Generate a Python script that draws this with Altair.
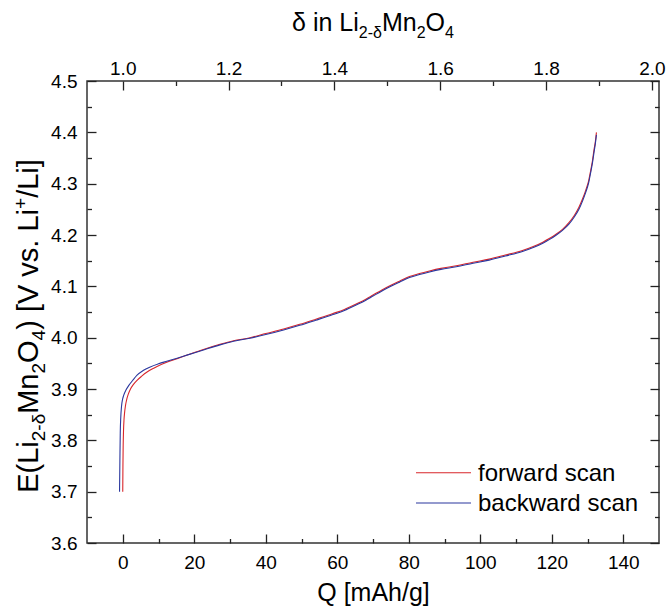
import altair as alt
import pandas as pd

# ---------------- data ----------------
q_forward = [0.0, 0.05, 0.12, 0.22, 0.35, 0.5, 0.75, 1.05, 1.5, 2.1, 3.0, 4.0, 5.3, 6.8, 8.2,
             9.6, 12.3, 15.2, 18.4, 21.7, 27.2, 31.0, 35.6, 40.0, 45.0, 49.5, 54.0, 58.8, 62.0,
             65.4, 68.0, 70.0, 72.5, 75.0, 77.4, 80.2, 83.0, 85.8, 89.0, 93.3, 98.0, 102.5,
             107.0, 111.8, 115.0, 117.5, 119.3, 121.1, 123.0, 124.8, 126.3, 127.6, 128.6,
             129.5, 130.3, 130.9, 131.4, 131.8, 132.2, 132.5]
e_forward = [3.700, 3.750, 3.790, 3.820, 3.840, 3.853, 3.867, 3.878, 3.889, 3.899, 3.909, 3.917,
             3.925, 3.933, 3.939, 3.944, 3.952, 3.959, 3.967, 3.975, 3.987, 3.994, 4.000, 4.008,
             4.017, 4.026, 4.036, 4.047, 4.055, 4.066, 4.075, 4.083, 4.093, 4.102, 4.110, 4.119,
             4.125, 4.130, 4.135, 4.140, 4.147, 4.153, 4.161, 4.170, 4.178, 4.186, 4.193, 4.201,
             4.211, 4.224, 4.238, 4.254, 4.270, 4.287, 4.305, 4.326, 4.345, 4.365, 4.382, 4.400]

q_backward = [-0.9, -0.8, -0.7, -0.55, -0.36, -0.05, 0.28, 0.9, 1.7, 2.8, 4.0, 5.7, 7.7, 10.0,
              12.3, 15.2, 18.4, 21.7, 27.2, 31.0, 35.6, 40.0, 45.0, 49.5, 54.0, 58.8, 62.0, 65.4,
              68.0, 70.0, 72.5, 75.0, 77.4, 80.2, 83.0, 85.8, 89.0, 93.3, 98.0, 102.5, 107.0,
              111.8, 115.0, 117.5, 119.3, 121.1, 123.0, 124.8, 126.3, 127.6, 128.6, 129.5, 130.3,
              130.9, 131.4, 131.8, 132.2, 132.5]
e_backward = [3.700, 3.760, 3.814, 3.845, 3.865, 3.880, 3.888, 3.898, 3.907, 3.917, 3.927, 3.936,
              3.943, 3.949, 3.954, 3.960, 3.967, 3.974, 3.986, 3.993, 3.999, 4.006, 4.015, 4.024,
              4.034, 4.045, 4.053, 4.064, 4.073, 4.081, 4.091, 4.100, 4.108, 4.117, 4.123, 4.128,
              4.133, 4.138, 4.145, 4.151, 4.159, 4.168, 4.176, 4.184, 4.191, 4.199, 4.209, 4.221,
              4.235, 4.250, 4.266, 4.283, 4.301, 4.322, 4.341, 4.360, 4.378, 4.395]

series_names = ["forward scan", "backward scan"]
series_colors = ["#d8262b", "#2a379e"]

x_domain = [-10, 150]
y_domain = [3.6, 4.5]
delta_domain = [1 - 10 / 148, 1 + 150 / 148]

x_major = [0, 20, 40, 60, 80, 100, 120, 140]
x_minor = [10, 30, 50, 70, 90, 110, 130]
y_major = [3.6, 3.7, 3.8, 3.9, 4.0, 4.1, 4.2, 4.3, 4.4, 4.5]
y_minor = [3.65, 3.75, 3.85, 3.95, 4.05, 4.15, 4.25, 4.35, 4.45]
delta_major = [1.0, 1.2, 1.4, 1.6, 1.8, 2.0]
delta_minor = [1.1, 1.3, 1.5, 1.7, 1.9]

x_title = "Q [mAh/g]"
# rich-text titles: (text, role) where role is main / sub / sup
top_title_parts = [("δ in Li", "main"), ("2-δ", "sub"), ("Mn", "main"), ("2", "sub"),
                   ("O", "main"), ("4", "sub")]
y_title_parts = [("E(Li", "main"), ("2-δ", "sub"), ("Mn", "main"), ("2", "sub"), ("O", "main"),
                 ("4", "sub"), (") [V vs. Li", "main"), ("+", "sup"), ("/Li]", "main")]

# ---------------- styling / layout ----------------
FONT = "Liberation Sans"
W, H = 572, 462
PAD = {"left": 87, "top": 81, "right": 7, "bottom": 67}
MAJ, MIN = 9, 4.5
TICK_COLOR = "#222"

ARIAL = {'δ': 556, ' ': 278, 'i': 222, 'n': 556, 'L': 556, '2': 556, '-': 333, 'M': 833,
         'O': 778, '4': 556, 'E': 667, '(': 333, ')': 333, '[': 278, ']': 278, 'V': 667,
         'v': 500, 's': 500, '.': 278, '+': 584, '/': 278}


def tw(s, size):
    return sum(ARIAL.get(c, 556) for c in s) / 1000 * size


def layout_parts(parts, main, small, sub_shift, sup_shift):
    rows, pos = [], 0.0
    for txt, role in parts:
        size = main if role == "main" else small
        shift = 0 if role == "main" else (sub_shift if role == "sub" else -sup_shift)
        rows.append({"t": txt, "size": size, "along": pos, "shift": shift})
        pos += tw(txt, size)
    return rows, pos


# ---------------- data frames ----------------
rows = []
for name, qs, es in [(series_names[0], q_forward, e_forward), (series_names[1], q_backward, e_backward)]:
    for i, (q, e) in enumerate(zip(qs, es)):
        rows.append({"Q": q, "E": e, "series": name, "i": i})
df = pd.DataFrame(rows)
df_delta = pd.DataFrame({"d": delta_major + delta_minor})

xs = alt.Scale(domain=x_domain, nice=False, zero=False)
ys = alt.Scale(domain=y_domain, nice=False, zero=False)
ds = alt.Scale(domain=delta_domain, nice=False, zero=False)
cs = alt.Scale(domain=series_names, range=series_colors)


def tick_axis(orient, values, size, **kw):
    base = dict(orient=orient, values=values, tickSize=size, offset=-size, domain=False,
                grid=False, ticks=True, tickColor=TICK_COLOR, tickWidth=1.3, labels=False,
                title=None)
    base.update(kw)
    return alt.Axis(**base)


lab = dict(labels=True, labelFontSize=19, labelFont=FONT, labelColor="black")

bottom_major = tick_axis("bottom", x_major, MAJ, labelPadding=10, title=x_title,
                         titleFontSize=25, titleFont=FONT, titleFontWeight="normal",
                         titleColor="black", titleBaseline="alphabetic", titleY=66, **lab)
left_major = tick_axis("left", y_major, MAJ, labelPadding=10, format=".1f", **lab)

lines = alt.Chart(df).mark_line(strokeWidth=1.1, interpolate="monotone").encode(
    x=alt.X("Q:Q", scale=xs, axis=bottom_major),
    y=alt.Y("E:Q", scale=ys, axis=left_major),
    color=alt.Color("series:N", scale=cs, legend=None),
    order="i:Q",
)

minor_bl = alt.Chart(df).mark_point(opacity=0).encode(
    x=alt.X("Q:Q", scale=xs, axis=tick_axis("bottom", x_minor, MIN)),
    y=alt.Y("E:Q", scale=ys, axis=tick_axis("left", y_minor, MIN)),
)
right_major = alt.Chart(df).mark_point(opacity=0).encode(
    y=alt.Y("E:Q", scale=ys, axis=tick_axis("right", y_major, MAJ)),
)
right_minor = alt.Chart(df).mark_point(opacity=0).encode(
    y=alt.Y("E:Q", scale=ys, axis=tick_axis("right", y_minor, MIN)),
)
top_major = alt.Chart(df_delta).mark_point(opacity=0).encode(
    x=alt.X("d:Q", scale=ds, axis=tick_axis("top", delta_major, MAJ, labelPadding=3,
                                            format=".1f", **lab)),
)
top_minor = alt.Chart(df_delta).mark_point(opacity=0).encode(
    x=alt.X("d:Q", scale=ds, axis=tick_axis("top", delta_minor, MIN)),
)

# top title (horizontal rich text)
tp, tlen = layout_parts(top_title_parts, 25, 16, 7.5, 10)
t_x0 = PAD["left"] + W / 2 - tlen / 2 - PAD["left"]
t_base = 30.7 - PAD["top"]
df_tt = pd.DataFrame([{"t": r["t"], "size": r["size"], "px": t_x0 + r["along"],
                       "py": t_base + r["shift"]} for r in tp])
top_title = alt.Chart(df_tt).mark_text(align="left", baseline="alphabetic", font=FONT,
                                       color="black").encode(
    x=alt.X("px:Q", scale=None, axis=None),
    y=alt.Y("py:Q", scale=None, axis=None),
    text="t:N",
    size=alt.Size("size:Q", scale=None, legend=None),
)

# y title (rotated rich text)
yp, ylen = layout_parts(y_title_parts, 29, 19, 7.5, 11)
y_base_x = 37.5 - PAD["left"]
y_center = 326
y_start = (y_center + ylen / 2) - PAD["top"]
df_yt = pd.DataFrame([{"t": r["t"], "size": r["size"], "px": y_base_x + r["shift"],
                       "py": y_start - r["along"]} for r in yp])
y_title = alt.Chart(df_yt).mark_text(align="left", baseline="alphabetic", angle=270,
                                     font=FONT, color="black").encode(
    x=alt.X("px:Q", scale=None, axis=None),
    y=alt.Y("py:Q", scale=None, axis=None),
    text="t:N",
    size=alt.Size("size:Q", scale=None, legend=None),
)

# legend (inside, bottom right)
leg_line_y = [472.7 - PAD["top"], 503.0 - PAD["top"]]
leg_text_y = [481.3 - PAD["top"], 510.5 - PAD["top"]]
df_leg = pd.DataFrame({"series": series_names, "ly": leg_line_y, "ty": leg_text_y})
leg_rules = alt.Chart(df_leg).mark_rule(strokeWidth=1.1).encode(
    x=alt.value(416 - PAD["left"]), x2=alt.value(471 - PAD["left"]),
    y=alt.Y("ly:Q", scale=None, axis=None),
    color=alt.Color("series:N", scale=cs, legend=None),
)
leg_text = alt.Chart(df_leg).mark_text(align="left", baseline="alphabetic", fontSize=24,
                                       font=FONT, color="black").encode(
    x=alt.value(478 - PAD["left"]),
    y=alt.Y("ty:Q", scale=None, axis=None),
    text="series:N",
)

chart = alt.layer(
    minor_bl, right_major, right_minor, top_major, top_minor, lines,
    leg_rules, leg_text, top_title, y_title,
).resolve_scale(
    x="independent", y="independent"
).properties(
    width=W, height=H, padding=PAD, autosize=alt.AutoSizeParams(type="none"),
    background="white",
).configure_view(
    stroke="#333", strokeWidth=1.5
)

chart.save("out.html", embed_options={"renderer": "svg", "actions": False})
